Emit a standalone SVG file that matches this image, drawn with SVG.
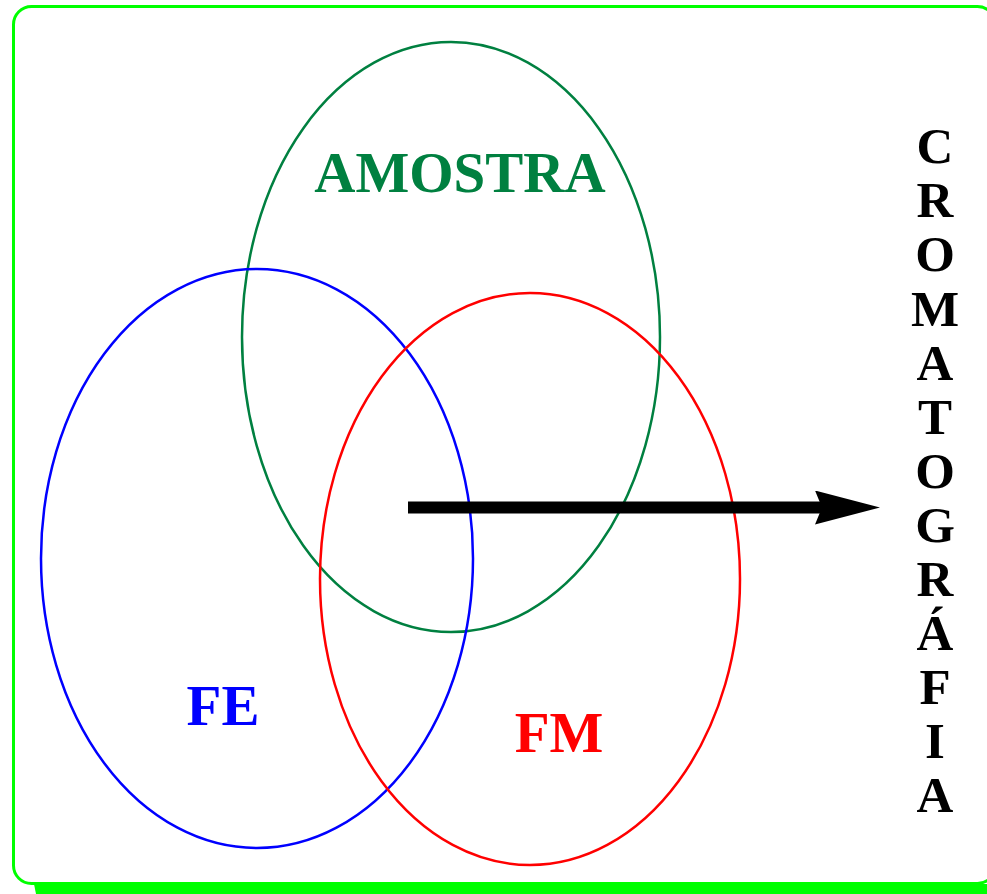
<svg xmlns="http://www.w3.org/2000/svg" width="987" height="894" viewBox="0 0 987 894">
<style>
.ell{fill:none;stroke-width:2.5}
.lbl{font-family:"Liberation Serif","Times New Roman",serif;font-weight:bold;font-size:57px;text-anchor:middle}
.vt{font-family:"Liberation Serif","Times New Roman",serif;font-weight:bold;font-size:51px;text-anchor:middle;fill:#000}
</style>
<defs>
<marker id="ah" markerUnits="userSpaceOnUse" markerWidth="70" markerHeight="40" refX="10" refY="17" orient="auto">
<path d="M0,0 L65,17 L0,34 L7,17 Z" fill="#000"/>
</marker>
</defs>
<g id="frame">
<path d="M34,884 L36,894 L987,894 L987,884 Z" fill="#00ff00"/>
<rect x="13.5" y="6.5" width="982" height="877" rx="18" ry="18" fill="none" stroke="#00ff00" stroke-width="3"/>
</g>
<g id="amostra">
<ellipse class="ell" cx="451" cy="337" rx="209" ry="295" stroke="#008040"/>
<text class="lbl" x="460" y="192" fill="#008040">AMOSTRA</text>
</g>
<g id="fe">
<ellipse class="ell" cx="257" cy="558.5" rx="216" ry="289.5" stroke="#0000ff"/>
<text class="lbl" x="223" y="725" fill="#0000ff">FE</text>
</g>
<g id="fm">
<ellipse class="ell" cx="530" cy="579" rx="210" ry="286" stroke="#ff0000"/>
<text class="lbl" x="559" y="752" fill="#ff0000">FM</text>
</g>
<g id="connectors">
<line x1="408" y1="507.5" x2="825" y2="507.5" stroke="#000" stroke-width="12" marker-end="url(#ah)"/>
</g>
<g id="cromatografia">
<text class="vt" x="935" y="163">C</text>
<text class="vt" x="935" y="217">R</text>
<text class="vt" x="935" y="271">O</text>
<text class="vt" x="935" y="326">M</text>
<text class="vt" x="935" y="380">A</text>
<text class="vt" x="935" y="434">T</text>
<text class="vt" x="935" y="488">O</text>
<text class="vt" x="935" y="542">G</text>
<text class="vt" x="935" y="596">R</text>
<text class="vt" x="935" y="650">Á</text>
<text class="vt" x="935" y="704">F</text>
<text class="vt" x="935" y="758">I</text>
<text class="vt" x="935" y="812">A</text>
</g>
</svg>
